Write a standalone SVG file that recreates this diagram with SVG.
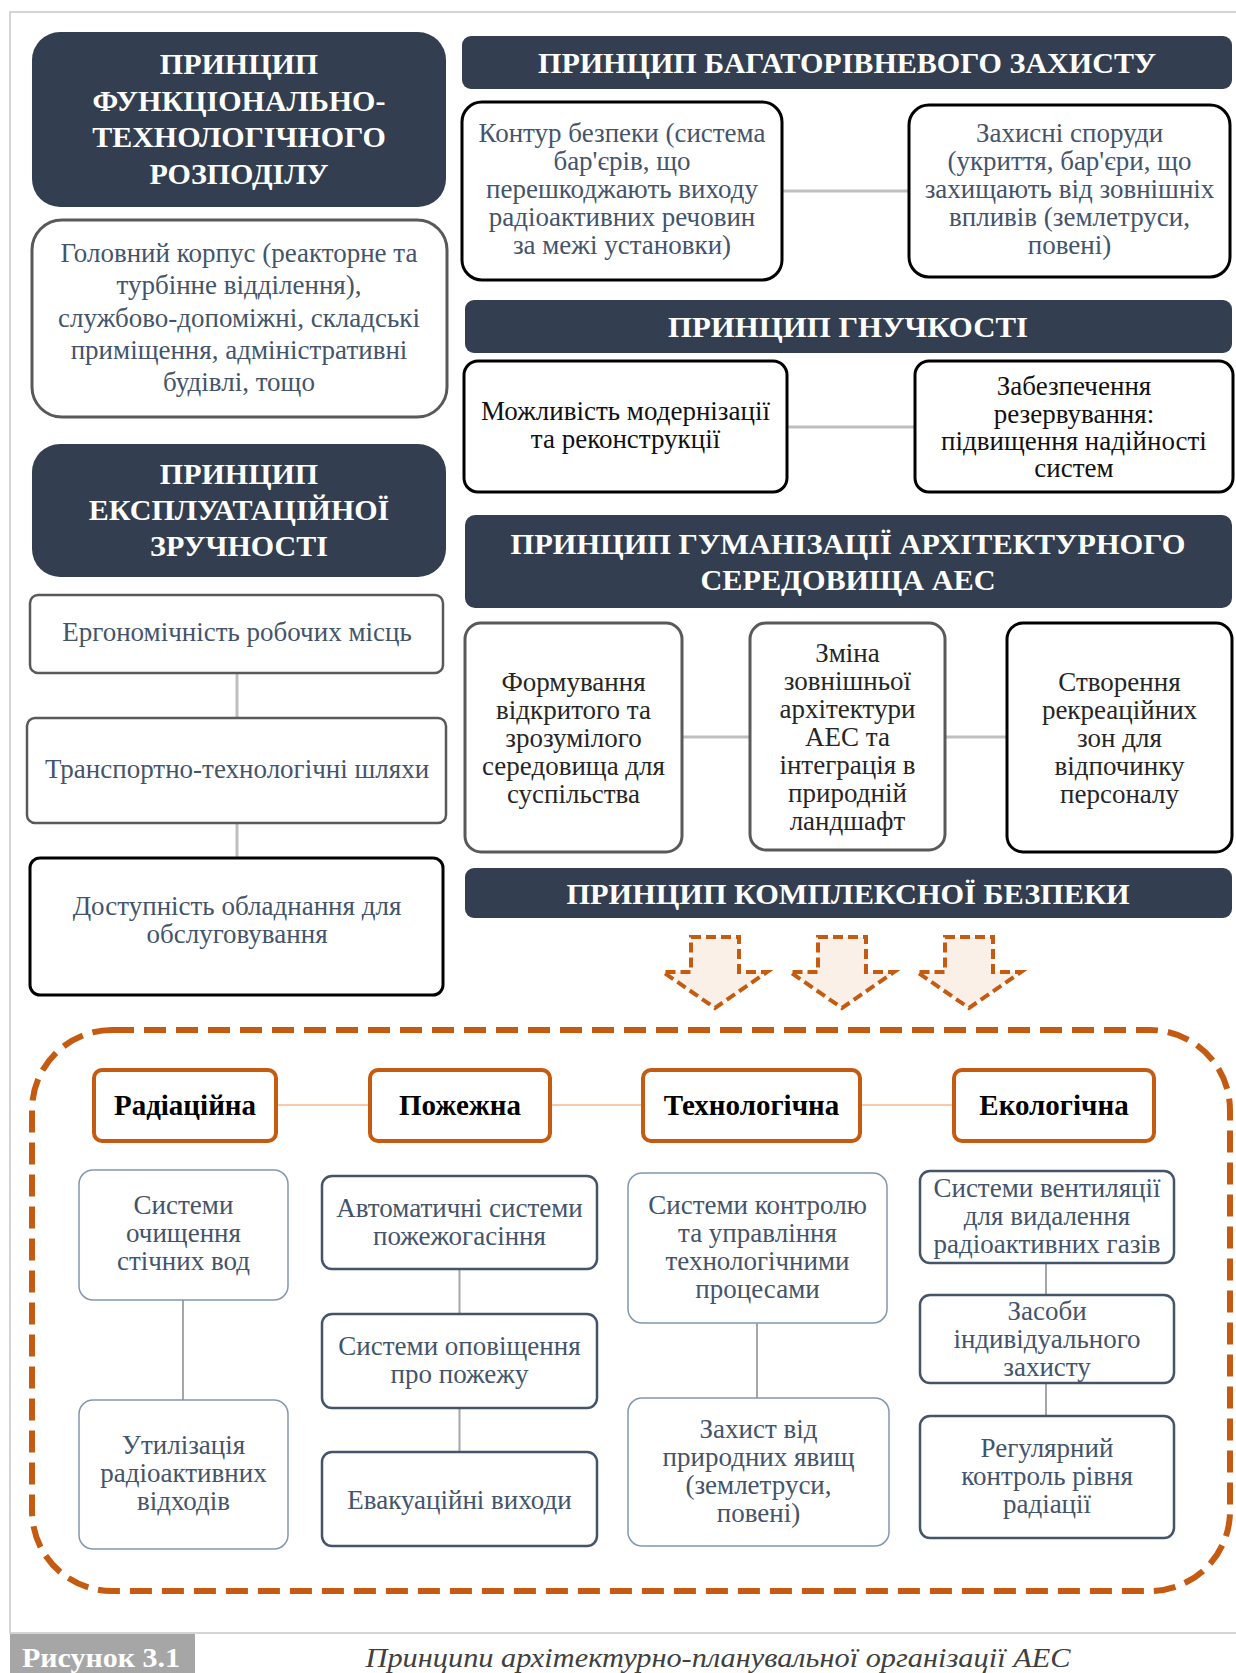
<svg xmlns="http://www.w3.org/2000/svg" width="1236" height="1673" viewBox="0 0 1236 1673">
<style>
.bg{fill:#ffffff}
.frame{stroke:#c8c8c8;stroke-width:1.5;fill:none}
.dark{fill:#333f50}
.ht{font-family:"Liberation Serif","Times New Roman",serif;font-weight:bold;fill:#ffffff;text-anchor:middle;font-size:30px}
.bt{font-family:"Liberation Serif","Times New Roman",serif;font-size:27px;fill:#44546a;text-anchor:middle}
.bk{fill:#111111}
.dg{fill:#262626}
.cat{font-family:"Liberation Serif","Times New Roman",serif;font-size:29px;font-weight:bold;fill:#000000;text-anchor:middle}
.boxg{fill:#ffffff;stroke:#595959;stroke-width:3}
.boxb{fill:#ffffff;stroke:#000000;stroke-width:3}
.boxo{fill:#ffffff;stroke:#c55a11;stroke-width:4}
.boxl{fill:#ffffff;stroke:#8497b0;stroke-width:1.5}
.boxs{fill:#ffffff;stroke:#44546a;stroke-width:2.5}
.conn{stroke:#bfbfbf;stroke-width:3;fill:none}
.connl{stroke:#a6a6a6;stroke-width:2;fill:none}
.conno{stroke:#f8cbad;stroke-width:2;fill:none}
.arrow{fill:#fbf0e7;stroke:#c55a11;stroke-width:4;stroke-dasharray:10 5}
.dash{fill:none;stroke:#c55a11;stroke-width:6;stroke-dasharray:22 10}
</style>
<rect class="bg" x="0" y="0" width="1236" height="1673"/>
<path class="frame" d="M1236 12 H10 V1633 H1236"/>

<g id="connectors">
  <line class="conn" x1="237" y1="673" x2="237" y2="718"/>
  <line class="conn" x1="237" y1="823" x2="237" y2="858"/>
  <line class="conn" x1="782" y1="191" x2="909" y2="191"/>
  <line class="conn" x1="787" y1="427" x2="915" y2="427"/>
  <line class="conn" x1="682" y1="737" x2="750" y2="737"/>
  <line class="conn" x1="945" y1="737" x2="1007" y2="737"/>
  <line class="conno" x1="276" y1="1105" x2="370" y2="1105"/>
  <line class="conno" x1="550" y1="1105" x2="643" y2="1105"/>
  <line class="conno" x1="860" y1="1105" x2="954" y2="1105"/>
  <line class="connl" x1="183" y1="1300" x2="183" y2="1400"/>
  <line class="connl" x1="459.5" y1="1269" x2="459.5" y2="1314"/>
  <line class="connl" x1="459.5" y1="1408" x2="459.5" y2="1452"/>
  <line class="connl" x1="757" y1="1323" x2="757" y2="1398"/>
  <line class="connl" x1="1046" y1="1263" x2="1046" y2="1295"/>
  <line class="connl" x1="1046" y1="1383" x2="1046" y2="1416"/>
</g>

<g id="p-func">
  <rect class="dark" x="32" y="32" width="414" height="175" rx="28"/>
  <text class="ht" x="239" y="74">ПРИНЦИП</text>
  <text class="ht" x="239" y="111">ФУНКЦІОНАЛЬНО-</text>
  <text class="ht" x="239" y="147">ТЕХНОЛОГІЧНОГО</text>
  <text class="ht" x="239" y="184">РОЗПОДІЛУ</text>
</g>
<g id="n-main">
  <rect class="boxg" x="32" y="220" width="415" height="197" rx="30"/>
  <text class="bt" x="239" y="262">Головний корпус (реакторне та</text>
  <text class="bt" x="239" y="294">турбінне відділення),</text>
  <text class="bt" x="239" y="327">службово-допоміжні, складські</text>
  <text class="bt" x="239" y="359">приміщення, адміністративні</text>
  <text class="bt" x="239" y="391">будівлі, тощо</text>
</g>

<g id="p-expl">
  <rect class="dark" x="32" y="444" width="414" height="133" rx="28"/>
  <text class="ht" x="239" y="484">ПРИНЦИП</text>
  <text class="ht" x="239" y="520">ЕКСПЛУАТАЦІЙНОЇ</text>
  <text class="ht" x="239" y="556">ЗРУЧНОСТІ</text>
</g>
<g id="n-ergo">
  <rect class="boxg" x="30" y="595" width="413" height="78" rx="8" style="stroke-width:2.5"/>
  <text class="bt" x="237" y="641">Ергономічність робочих місць</text>
</g>
<g id="n-trans">
  <rect class="boxg" x="27" y="718" width="419" height="105" rx="8" style="stroke-width:2.5"/>
  <text class="bt" x="237" y="778">Транспортно-технологічні шляхи</text>
</g>
<g id="n-access">
  <rect class="boxb" x="30" y="858" width="413" height="137" rx="10"/>
  <text class="bt" x="237" y="915">Доступність обладнання для</text>
  <text class="bt" x="237" y="943">обслуговування</text>
</g>

<g id="p-multi">
  <rect class="dark" x="462" y="36" width="770" height="53" rx="9"/>
  <text class="ht" x="847" y="73" textLength="618" lengthAdjust="spacingAndGlyphs">ПРИНЦИП БАГАТОРІВНЕВОГО ЗАХИСТУ</text>
</g>
<g id="n-contour">
  <rect class="boxb" x="462" y="102" width="320" height="178" rx="20"/>
  <text class="bt" x="622" y="142">Контур безпеки (система</text>
  <text class="bt" x="622" y="170">бар'єрів, що</text>
  <text class="bt" x="622" y="198">перешкоджають виходу</text>
  <text class="bt" x="622" y="226">радіоактивних речовин</text>
  <text class="bt" x="622" y="254">за межі установки)</text>
</g>
<g id="n-shelter">
  <rect class="boxb" x="909" y="105" width="321" height="172" rx="20"/>
  <text class="bt" x="1069.5" y="142">Захисні споруди</text>
  <text class="bt" x="1069.5" y="170">(укриття, бар'єри, що</text>
  <text class="bt" x="1069.5" y="198">захищають від зовнішніх</text>
  <text class="bt" x="1069.5" y="226">впливів (землетруси,</text>
  <text class="bt" x="1069.5" y="254">повені)</text>
</g>

<g id="p-flex">
  <rect class="dark" x="465" y="300" width="767" height="53" rx="9"/>
  <text class="ht" x="848" y="337" textLength="360" lengthAdjust="spacingAndGlyphs">ПРИНЦИП ГНУЧКОСТІ</text>
</g>
<g id="n-modern">
  <rect class="boxb" x="464" y="361" width="323" height="131" rx="14"/>
  <text class="bt bk" x="625.5" y="420">Можливість модернізації</text>
  <text class="bt bk" x="625.5" y="448">та реконструкції</text>
</g>
<g id="n-reserve">
  <rect class="boxb" x="915" y="361" width="318" height="131" rx="14"/>
  <text class="bt bk" x="1074" y="395">Забезпечення</text>
  <text class="bt bk" x="1074" y="422.5">резервування:</text>
  <text class="bt bk" x="1074" y="450">підвищення надійності</text>
  <text class="bt bk" x="1074" y="477">систем</text>
</g>

<g id="p-human">
  <rect class="dark" x="465" y="515" width="767" height="93" rx="10"/>
  <text class="ht" x="848" y="554" textLength="675" lengthAdjust="spacingAndGlyphs">ПРИНЦИП ГУМАНІЗАЦІЇ АРХІТЕКТУРНОГО</text>
  <text class="ht" x="848" y="590" textLength="295" lengthAdjust="spacingAndGlyphs">СЕРЕДОВИЩА АЕС</text>
</g>
<g id="n-open">
  <rect class="boxg" x="465" y="623" width="217" height="229" rx="16"/>
  <text class="bt dg" x="573.5" y="691">Формування</text>
  <text class="bt dg" x="573.5" y="719">відкритого та</text>
  <text class="bt dg" x="573.5" y="747">зрозумілого</text>
  <text class="bt dg" x="573.5" y="775">середовища для</text>
  <text class="bt dg" x="573.5" y="803">суспільства</text>
</g>
<g id="n-exterior">
  <rect class="boxg" x="750" y="623" width="195" height="227" rx="16"/>
  <text class="bt dg" x="847.5" y="662">Зміна</text>
  <text class="bt dg" x="847.5" y="690">зовнішньої</text>
  <text class="bt dg" x="847.5" y="718">архітектури</text>
  <text class="bt dg" x="847.5" y="746">АЕС та</text>
  <text class="bt dg" x="847.5" y="774">інтеграція в</text>
  <text class="bt dg" x="847.5" y="802">природній</text>
  <text class="bt dg" x="847.5" y="830">ландшафт</text>
</g>
<g id="n-recreation">
  <rect class="boxb" x="1007" y="623" width="225" height="229" rx="16"/>
  <text class="bt dg" x="1119.5" y="691">Створення</text>
  <text class="bt dg" x="1119.5" y="719">рекреаційних</text>
  <text class="bt dg" x="1119.5" y="747">зон для</text>
  <text class="bt dg" x="1119.5" y="775">відпочинку</text>
  <text class="bt dg" x="1119.5" y="803">персоналу</text>
</g>

<g id="p-safety">
  <rect class="dark" x="465" y="868" width="767" height="50" rx="9"/>
  <text class="ht" x="848" y="904" textLength="563" lengthAdjust="spacingAndGlyphs">ПРИНЦИП КОМПЛЕКСНОЇ БЕЗПЕКИ</text>
</g>

<g id="arrows">
  <polygon class="arrow" points="691,937 739,937 739,972 767,972 715,1008 663,972 691,972"/>
  <polygon class="arrow" points="818,937 866,937 866,972 894,972 842,1008 790,972 818,972"/>
  <polygon class="arrow" points="945,937 993,937 993,972 1021,972 969,1008 917,972 945,972"/>
</g>

<g id="safety-frame">
  <rect class="dash" x="32" y="1030" width="1198" height="561" rx="80"/>
</g>

<g id="c-rad">
  <rect class="boxo" x="94" y="1070" width="182" height="71" rx="8"/>
  <text class="cat" x="185" y="1115">Радіаційна</text>
</g>
<g id="c-fire">
  <rect class="boxo" x="370" y="1070" width="180" height="71" rx="8"/>
  <text class="cat" x="460" y="1115">Пожежна</text>
</g>
<g id="c-tech">
  <rect class="boxo" x="643" y="1070" width="217" height="71" rx="8"/>
  <text class="cat" x="751.5" y="1115">Технологічна</text>
</g>
<g id="c-eco">
  <rect class="boxo" x="954" y="1070" width="200" height="71" rx="8"/>
  <text class="cat" x="1054" y="1115">Екологічна</text>
</g>

<g id="n-water">
  <rect class="boxl" x="79" y="1170" width="209" height="130" rx="14"/>
  <text class="bt" x="183.5" y="1214">Системи</text>
  <text class="bt" x="183.5" y="1242">очищення</text>
  <text class="bt" x="183.5" y="1270">стічних вод</text>
</g>
<g id="n-waste">
  <rect class="boxl" x="79" y="1400" width="209" height="149" rx="14"/>
  <text class="bt" x="183.5" y="1454">Утилізація</text>
  <text class="bt" x="183.5" y="1482">радіоактивних</text>
  <text class="bt" x="183.5" y="1510">відходів</text>
</g>

<g id="n-extinguish">
  <rect class="boxs" x="322" y="1176" width="275" height="93" rx="10"/>
  <text class="bt" x="459.5" y="1217">Автоматичні системи</text>
  <text class="bt" x="459.5" y="1245">пожежогасіння</text>
</g>
<g id="n-alarm">
  <rect class="boxs" x="322" y="1314" width="275" height="94" rx="10"/>
  <text class="bt" x="459.5" y="1355">Системи оповіщення</text>
  <text class="bt" x="459.5" y="1383">про пожежу</text>
</g>
<g id="n-exits">
  <rect class="boxs" x="322" y="1452" width="275" height="94" rx="10"/>
  <text class="bt" x="459.5" y="1509">Евакуаційні виходи</text>
</g>

<g id="n-control">
  <rect class="boxl" x="628" y="1173" width="259" height="150" rx="14"/>
  <text class="bt" x="757.5" y="1214">Системи контролю</text>
  <text class="bt" x="757.5" y="1242">та управління</text>
  <text class="bt" x="757.5" y="1270">технологічними</text>
  <text class="bt" x="757.5" y="1298">процесами</text>
</g>
<g id="n-nature">
  <rect class="boxl" x="628" y="1398" width="261" height="148" rx="14"/>
  <text class="bt" x="758.5" y="1438">Захист від</text>
  <text class="bt" x="758.5" y="1466">природних явищ</text>
  <text class="bt" x="758.5" y="1494">(землетруси,</text>
  <text class="bt" x="758.5" y="1522">повені)</text>
</g>

<g id="n-vent">
  <rect class="boxs" x="920" y="1171" width="254" height="92" rx="10"/>
  <text class="bt" x="1047" y="1197">Системи вентиляції</text>
  <text class="bt" x="1047" y="1225">для видалення</text>
  <text class="bt" x="1047" y="1253">радіоактивних газів</text>
</g>
<g id="n-ppe">
  <rect class="boxs" x="920" y="1295" width="254" height="88" rx="10"/>
  <text class="bt" x="1047" y="1320">Засоби</text>
  <text class="bt" x="1047" y="1348">індивідуального</text>
  <text class="bt" x="1047" y="1376">захисту</text>
</g>
<g id="n-monitor">
  <rect class="boxs" x="920" y="1416" width="254" height="122" rx="10"/>
  <text class="bt" x="1047" y="1457">Регулярний</text>
  <text class="bt" x="1047" y="1485">контроль рівня</text>
  <text class="bt" x="1047" y="1513">радіації</text>
</g>

<g id="caption">
  <rect x="10" y="1634" width="185" height="39" fill="#a6a6a6"/>
  <text x="101" y="1667" font-family="'Liberation Serif','Times New Roman',serif" font-weight="bold" font-size="27" fill="#ffffff" text-anchor="middle" textLength="158" lengthAdjust="spacingAndGlyphs">Рисунок 3.1</text>
  <text x="718" y="1667" font-family="'Liberation Serif','Times New Roman',serif" font-style="italic" font-size="27" fill="#404040" text-anchor="middle" textLength="705" lengthAdjust="spacingAndGlyphs">Принципи архітектурно-планувальної організації АЕС</text>
</g>
</svg>
